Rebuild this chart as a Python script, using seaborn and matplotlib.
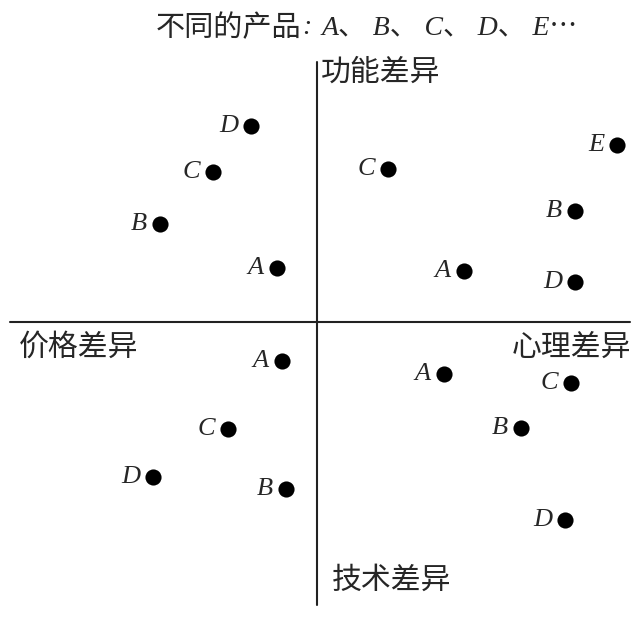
import pandas as pd
import matplotlib
matplotlib.use('Agg')
import matplotlib.pyplot as plt
import seaborn as sns

# Positioning map data: product, x (price <- -> psychological), y (technical <- -> functional)
products = ['D', 'C', 'B', 'A',
            'C', 'E', 'B', 'A', 'D',
            'A', 'C', 'D', 'B',
            'A', 'C', 'B', 'D']
x_vals = [-66, -104, -157, -40,
          71, 300, 258, 147, 258,
          -35, -89, -164, -31,
          127, 254, 204, 248]
y_vals = [196, 150, 98, 54,
          153, 177, 111, 51, 40,
          -39, -107, -155, -167,
          -52, -61, -106, -198]

axis_labels = ['功能差异', '价格差异', '心理差异', '技术差异']
title_cn = '不同的产品'
title_letters = 'A、 B、 C、 D、 E⋯'

df = pd.DataFrame({'product': products, 'x': x_vals, 'y': y_vals})

sns.set_style('white')
cjk = ['Noto Sans CJK SC', 'DejaVu Sans']
serif_it = ['Liberation Serif', 'Noto Sans CJK SC', 'DejaVu Sans']

fig = plt.figure(figsize=(6.39, 6.19), dpi=100)
ax = fig.add_axes([0, 0, 1, 1])

sns.scatterplot(data=df, x='x', y='y', color='black', s=135, edgecolor='black',
                linewidth=0, ax=ax, legend=False)

for _, r in df.iterrows():
    ax.text(r['x'] - 13, r['y'], r['product'], ha='right', va='center',
            family=serif_it, style='italic', fontsize=19)

# axes cross
ax.plot([-307, 313], [0, 0], color='#222222', lw=1.5)
ax.plot([0, 0], [-283, 260], color='#222222', lw=1.5)

ax.text(4, 250, axis_labels[0], ha='left', va='center', family=cjk, fontsize=21.5)
ax.text(-298, -25, axis_labels[1], ha='left', va='center', family=cjk, fontsize=21.5)
ax.text(314, -25, axis_labels[2], ha='right', va='center', family=cjk, fontsize=21.5)
ax.text(15, -258, axis_labels[3], ha='left', va='center', family=cjk, fontsize=21.5)

ax.text(-16, 294, title_cn, ha='right', va='center', family=cjk, fontsize=21)
ax.text(-15, 294, ':', ha='left', va='center', family=serif_it,
        style='italic', fontsize=20)
ax.text(5, 294, title_letters, ha='left', va='center', family=serif_it,
        style='italic', fontsize=20)

ax.set_xlim(-317, 322)
ax.set_ylim(-297, 322)
ax.axis('off')

fig.savefig('out.png', dpi=100)
